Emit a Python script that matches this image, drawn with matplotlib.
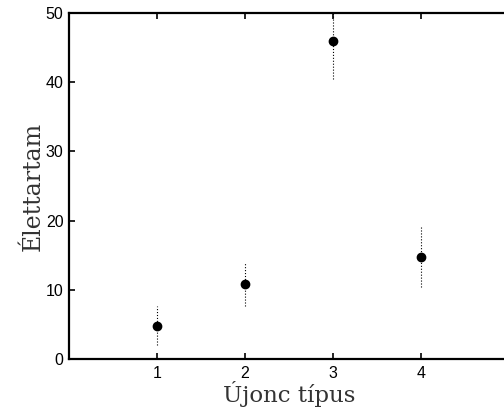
import matplotlib
matplotlib.use("Agg")
import matplotlib.pyplot as plt

# Adatok
tipus = [1, 2, 3, 4]
elettartam = [4.8, 10.8, 45.9, 14.8]
hiba = [2.8, 3.2, 5.4, 4.4]

fig = plt.figure(figsize=(5.04, 4.18), dpi=100)
ax = fig.add_axes([0.137, 0.141, 0.873, 0.828])

eb = ax.errorbar(tipus, elettartam, yerr=hiba, fmt='o', color='black',
                 markersize=6, ecolor='black', elinewidth=0.8, capsize=0)
eb[2][0].set_linestyle(':')

ax.set_xlim(0, 5)
ax.set_ylim(0, 50)
ax.set_xticks([1, 2, 3, 4])
ax.set_yticks([0, 10, 20, 30, 40, 50])

for s in ax.spines.values():
    s.set_linewidth(1.6)
ax.tick_params(direction='in', length=4, width=1.2, top=True, right=False,
               labelsize=11.5)
ax.tick_params(axis='x', pad=5)
ax.tick_params(axis='y', pad=4)
for lbl in ax.get_xticklabels() + ax.get_yticklabels():
    lbl.set_family('Liberation Sans')

ax.set_xlabel('Újonc típus', family='DejaVu Serif', fontsize=16.5,
              color='#333333', labelpad=0)
ax.set_ylabel('Élettartam', family='DejaVu Serif', fontsize=17,
              color='#333333', labelpad=1)

fig.savefig('out.png', dpi=100)
